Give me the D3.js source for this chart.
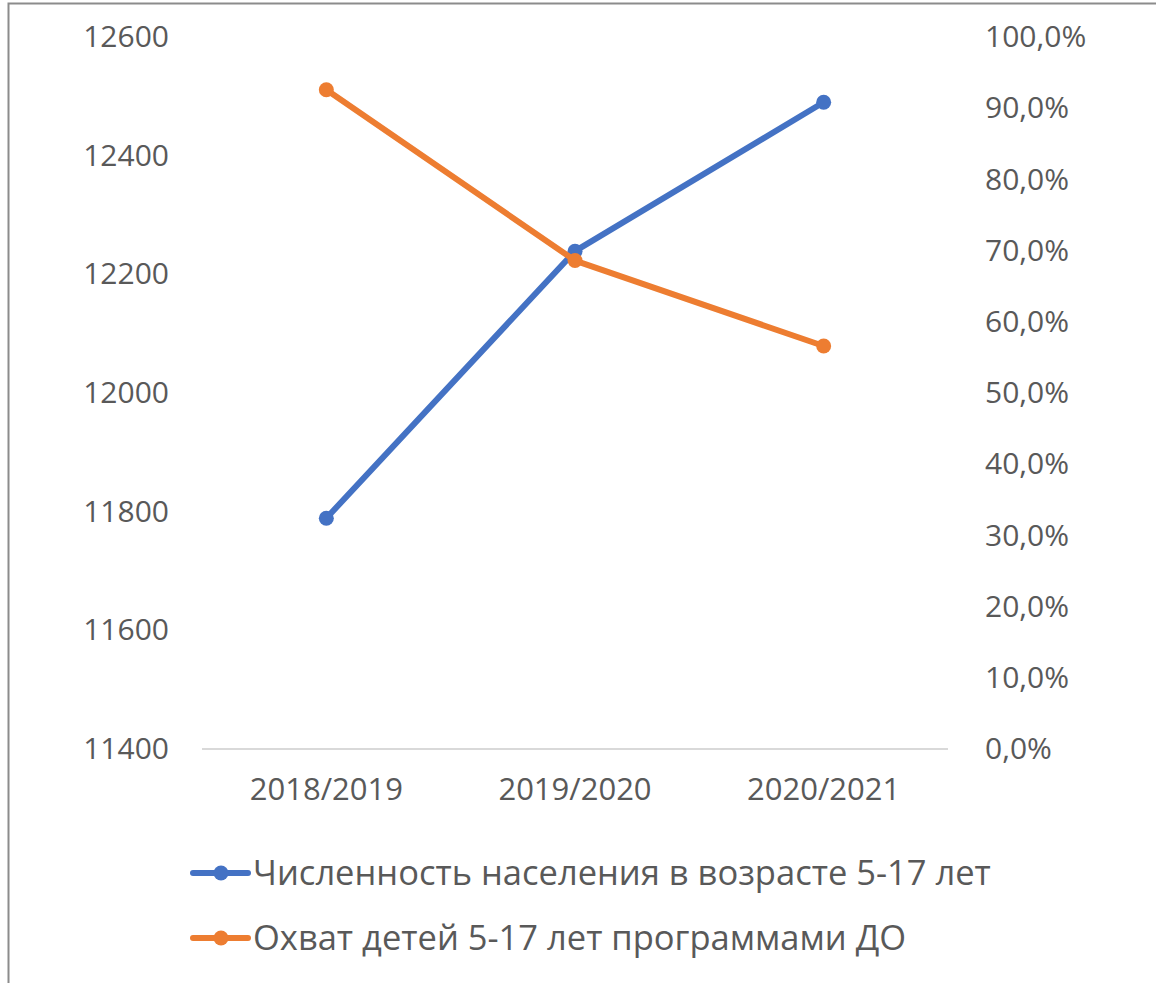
<!DOCTYPE html>
<html>
<head>
<meta charset="utf-8">
<script src="https://cdn.jsdelivr.net/npm/d3@7"></script>
<style>
  body { margin: 0; background: #fff; }
  text { font-family: "Open Sans", "Noto Sans", sans-serif; fill: #595959; }
</style>
</head>
<body>
<div id="main"></div>
<script>
// Data
const categories = ["2018/2019", "2019/2020", "2020/2021"];
const population = [11789, 12239, 12490];
const coverage = [0.926, 0.686, 0.566];
const leftTicks = [11400, 11600, 11800, 12000, 12200, 12400, 12600];
const rightTicks = [0, 0.1, 0.2, 0.3, 0.4, 0.5, 0.6, 0.7, 0.8, 0.9, 1.0];
const seriesNames = [
  "Численность населения в возрасте 5-17 лет",
  "Охват детей 5-17 лет программами ДО",
];

// Layout config
const width = 1156;
const height = 983;
const plot = { left: 202, right: 948, top: 37, bottom: 749 };
const colors = ["#4472C4", "#ED7D31"];

const svg = d3
  .select("#main")
  .append("svg")
  .attr("width", width)
  .attr("height", height);

// Chart frame
svg
  .append("rect")
  .attr("x", 8.5)
  .attr("y", 3.5)
  .attr("width", width + 20)
  .attr("height", height + 20)
  .attr("fill", "none")
  .attr("stroke", "#8c8c8c")
  .attr("stroke-width", 2);

// Scales
const x = d3
  .scaleBand()
  .domain(categories)
  .range([plot.left, plot.right]);
const yLeft = d3
  .scaleLinear()
  .domain([11400, 12600])
  .range([plot.bottom, plot.top]);
const yRight = d3
  .scaleLinear()
  .domain([0, 1])
  .range([plot.bottom, plot.top]);

// Baseline gridline
svg
  .append("line")
  .attr("x1", plot.left)
  .attr("x2", plot.right)
  .attr("y1", yLeft(11400))
  .attr("y2", yLeft(11400))
  .attr("stroke", "#d9d9d9")
  .attr("stroke-width", 2);

// Left axis
const leftAxis = d3
  .axisLeft(yLeft)
  .tickValues(leftTicks)
  .tickFormat(d3.format("d"))
  .tickSize(0)
  .tickPadding(0);
const lg = svg.append("g").attr("transform", "translate(169,0)").call(leftAxis);
lg.select(".domain").remove();
lg.selectAll("text").attr("font-size", 30).attr("fill", "#595959");

// Right axis
const pct = (d) => d3.format(".1f")(d * 100).replace(".", ",") + "%";
const rightAxis = d3
  .axisRight(yRight)
  .tickValues(rightTicks)
  .tickFormat(pct)
  .tickSize(0)
  .tickPadding(0);
const rg = svg.append("g").attr("transform", "translate(985,0)").call(rightAxis);
rg.select(".domain").remove();
rg.selectAll("text").attr("font-size", 30).attr("fill", "#595959");

// Bottom axis
const bottomAxis = d3.axisBottom(x).tickSize(0).tickPadding(0);
const bg = svg
  .append("g")
  .attr("transform", `translate(0,${plot.bottom + 29})`)
  .call(bottomAxis);
bg.select(".domain").remove();
bg.selectAll("text").attr("font-size", 31).attr("fill", "#595959");

// Series
const cx = (d, i) => x(categories[i]) + x.bandwidth() / 2;
const series = [
  { values: population, y: yLeft },
  { values: coverage, y: yRight },
];

series.forEach((s, k) => {
  const line = d3
    .line()
    .x((d, i) => cx(d, i))
    .y((d) => s.y(d));
  svg
    .append("path")
    .datum(s.values)
    .attr("fill", "none")
    .attr("stroke", colors[k])
    .attr("stroke-width", 6)
    .attr("stroke-linejoin", "round")
    .attr("stroke-linecap", "round")
    .attr("d", line);
  svg
    .append("g")
    .selectAll("circle")
    .data(s.values)
    .join("circle")
    .attr("cx", cx)
    .attr("cy", (d) => s.y(d))
    .attr("r", 7.5)
    .attr("fill", colors[k]);
});

// Legend
const legendY = [873, 938];
const legend = svg
  .append("g")
  .selectAll("g")
  .data(seriesNames)
  .join("g")
  .attr("transform", (d, i) => `translate(193,${legendY[i]})`);
legend
  .append("line")
  .attr("x1", 0)
  .attr("x2", 55)
  .attr("stroke", (d, i) => colors[i])
  .attr("stroke-width", 6)
  .attr("stroke-linecap", "round");
legend
  .append("circle")
  .attr("cx", 28)
  .attr("r", 7.5)
  .attr("fill", (d, i) => colors[i]);
legend
  .append("text")
  .attr("x", 60)
  .attr("dy", "0.35em")
  .attr("font-size", 34.5)
  .text((d) => d);
</script>
</body>
</html>
